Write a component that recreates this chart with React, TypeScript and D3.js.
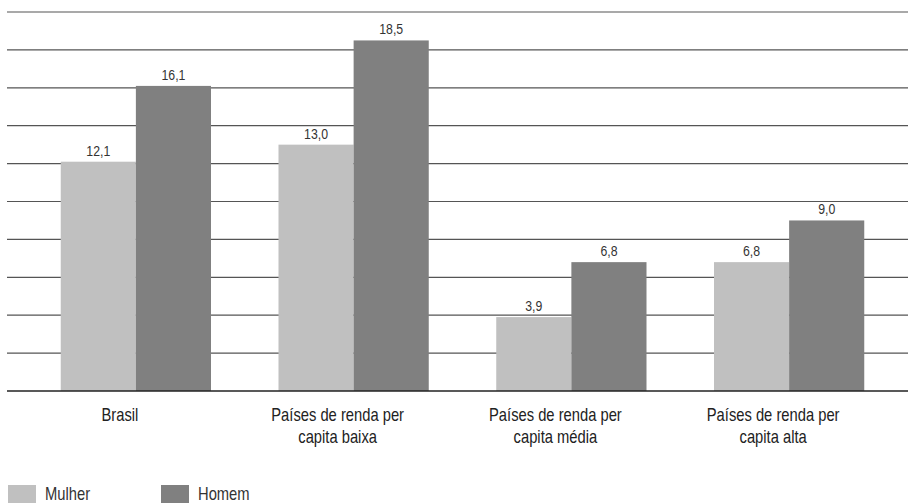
import React from "react";
import * as d3 from "d3";

const categories: string[][] = [
  ["Brasil"],
  ["Países de renda per", "capita baixa"],
  ["Países de renda per", "capita média"],
  ["Países de renda per", "capita alta"],
];
const seriesNames = ["Mulher", "Homem"];
const mulher = [12.1, 13.0, 3.9, 6.8];
const homem = [16.1, 18.5, 6.8, 9.0];
const yTicks = [0, 2, 4, 6, 8, 10, 12, 14, 16, 18, 20];
const colors = ["#c0c0c0", "#808080"];

const W = 908;
const H = 503;
const FONT = "'Liberation Sans', Arial, sans-serif";
// horizontal squeeze giving a narrow, condensed face
const NARROW = 0.82;
// category labels sit a little left of their bar pair
const LABEL_SHIFT = -16;

const fmt = (v: number) => v.toFixed(1).replace(".", ",");

type NarrowTextProps = {
  x: number;
  y: number;
  size: number;
  fill: string;
  anchor?: "start" | "middle" | "end";
  children: React.ReactNode;
};

function NarrowText({ x, y, size, fill, anchor = "start", children }: NarrowTextProps) {
  return (
    <g transform={`translate(${x},${y}) scale(${NARROW},1)`}>
      <text x={0} y={0} fontSize={size} fill={fill} textAnchor={anchor}>
        {children}
      </text>
    </g>
  );
}

export default function App() {
  const y = d3.scaleLinear().domain([0, 20]).range([391, 12]);
  const x0 = d3
    .scaleBand<number>()
    .domain(d3.range(categories.length))
    .range([27, 898])
    .paddingInner(0.31)
    .paddingOuter(0.155);
  const x1 = d3
    .scaleBand<number>()
    .domain([0, 1])
    .range([0, x0.bandwidth()]);
  const series = [mulher, homem];

  return (
    <svg
      width={W}
      height={H}
      style={{ position: "absolute", left: 0, top: 0, display: "block", background: "#fff" }}
      fontFamily={FONT}
    >
      {/* horizontal gridlines */}
      {yTicks.slice(1).map((t) => (
        <line key={t} x1={7} x2={W} y1={y(t)} y2={y(t)} stroke="#555" strokeWidth={1.2} />
      ))}

      {/* bars */}
      {categories.map((_, i) => (
        <g key={i} transform={`translate(${x0(i)},0)`}>
          {series.map((s, j) => (
            <rect
              key={j}
              x={x1(j)}
              y={y(s[i])}
              width={x1.bandwidth()}
              height={y(0) - y(s[i])}
              fill={colors[j]}
            />
          ))}
          {series.map((s, j) => (
            <NarrowText
              key={"l" + j}
              x={(x1(j) as number) + x1.bandwidth() / 2}
              y={y(s[i]) - 6}
              anchor="middle"
              size={15}
              fill="#333"
            >
              {fmt(s[i])}
            </NarrowText>
          ))}
        </g>
      ))}

      {/* baseline */}
      <line x1={7} x2={W} y1={y(0)} y2={y(0)} stroke="#222" strokeWidth={1.6} />

      {/* category labels */}
      {categories.map((lines, i) =>
        lines.map((ln, k) => (
          <NarrowText
            key={"c" + i + "-" + k}
            x={(x0(i) as number) + x0.bandwidth() / 2 + LABEL_SHIFT}
            y={421 + k * 21.5}
            anchor="middle"
            size={18}
            fill="#222"
          >
            {ln}
          </NarrowText>
        ))
      )}

      {/* legend */}
      {seriesNames.map((n, j) => (
        <g key={n} transform={`translate(${8 + j * 153},485)`}>
          <rect x={0} y={0} width={28} height={18} fill={colors[j]} />
          <NarrowText x={37} y={15} size={18} fill="#333">
            {n}
          </NarrowText>
        </g>
      ))}
    </svg>
  );
}
